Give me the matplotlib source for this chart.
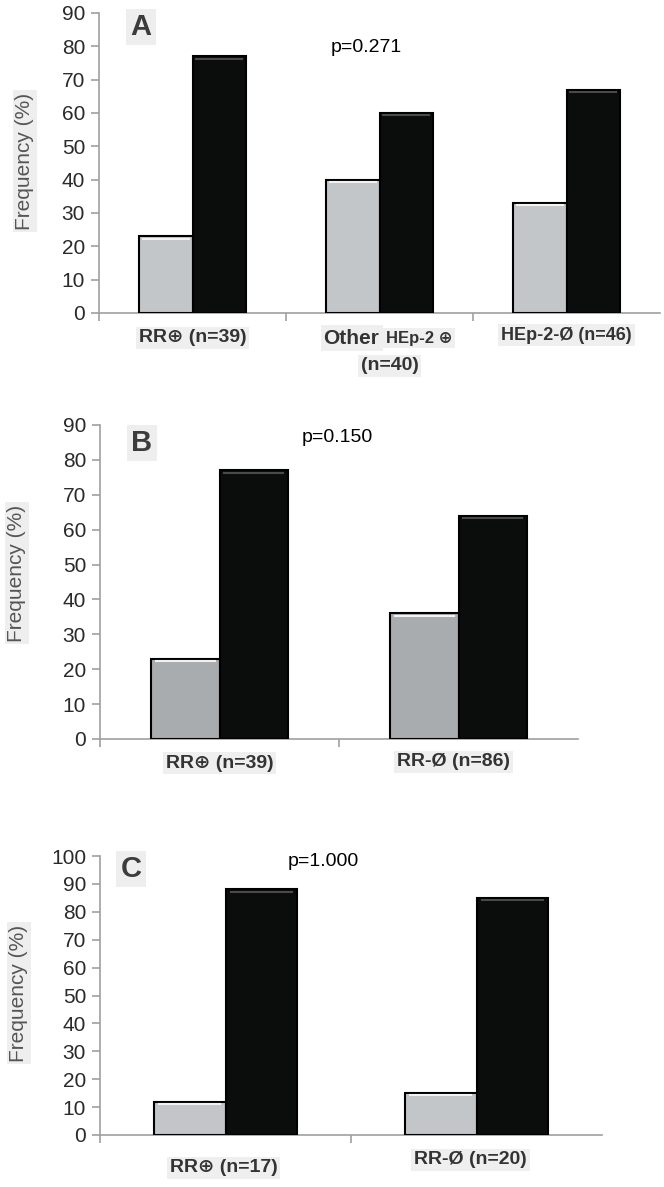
import matplotlib
matplotlib.use('Agg')
import matplotlib.pyplot as plt
import numpy as np

plt.rcParams['font.family'] = ['Liberation Sans', 'DejaVu Sans']

# panel A
a_grey = [23, 40, 33]
a_black = [77, 60, 67]
# panel B
b_grey = [23, 36]
b_black = [77, 64]
# panel C
c_grey = [12, 15]
c_black = [88, 85]

a_yticks = list(range(0, 91, 10))
b_yticks = list(range(0, 91, 10))
c_yticks = list(range(0, 101, 10))

b_labels = ['RR⊕ (n=39)', 'RR-Ø (n=86)']
c_labels = ['RR⊕ (n=17)', 'RR-Ø (n=20)']
p_values = ['p=0.271', 'p=0.150', 'p=1.000']
panel_names = ['A', 'B', 'C']

W, H = 664, 1187
fig = plt.figure(figsize=(W / 100, H / 100), dpi=100)


def px_axes(left, right, top, bottom):
    return fig.add_axes([left / W, 1 - bottom / H, (right - left) / W, (bottom - top) / H])


def draw_bars(ax, grey, black, yticks, grey_color):
    n = len(grey)
    x = np.arange(n)
    w = 0.286
    ax.bar(x - w / 2, grey, w, color=grey_color, edgecolor='black', linewidth=1.5, zorder=3)
    ax.bar(x + w / 2, black, w, color='#0a0d0b', edgecolor='black', linewidth=1.5, zorder=3)
    # small bevel highlight along the bar tops
    top = yticks[-1]
    for xi, g, b in zip(x, grey, black):
        ax.plot([xi - w + 0.02, xi - 0.02], [g - top * 0.008] * 2, color='#f2f2f2', lw=1.5, zorder=4)
        ax.plot([xi + 0.02, xi + w - 0.02], [b - top * 0.008] * 2, color='#4a4a4a', lw=1.5, zorder=4)
    ax.set_xlim(-0.5, n - 0.5)
    ax.set_ylim(0, top)
    ax.set_yticks(yticks)
    ax.set_xticks(np.arange(n) - 0.5)
    ax.set_xticklabels([])
    for s in ['top', 'right']:
        ax.spines[s].set_visible(False)
    for s in ['left', 'bottom']:
        ax.spines[s].set_color('#a0a0a0')
        ax.spines[s].set_linewidth(1.2)
    ax.tick_params(axis='both', direction='out', length=6, width=1.2, color='#a0a0a0')
    ax.tick_params(axis='y', labelsize=15, labelcolor='#2a2a2a', pad=4)


def cat_label(ax, x, text, dy, size=14, ha='center', dx=0):
    ax.annotate(text, xy=(x, 0), xycoords=('data', 'axes fraction'),
                xytext=(dx, -dy), textcoords='offset pixels',
                ha=ha, va='center', fontsize=size, fontweight='bold', color='#333333',
                bbox=dict(boxstyle='square,pad=0.15', facecolor='#efefef', edgecolor='none'))


def fig_text(x, y, text, **kw):
    fig.text(x / W, 1 - y / H, text, **kw)


axA = px_axes(99, 660, 13, 313)
draw_bars(axA, a_grey, a_black, a_yticks, '#c2c6c8')
cat_label(axA, 0, 'RR⊕ (n=39)', 25)
cat_label(axA, 1, 'Other', 25, size=15, ha='right')
cat_label(axA, 1, 'HEp-2 ⊕', 25, size=12, ha='left', dx=6)
cat_label(axA, 1, '(n=40)', 53, dx=10)
cat_label(axA, 2, 'HEp-2-Ø (n=46)', 22, size=13)

axB = px_axes(100, 578, 425, 739)
draw_bars(axB, b_grey, b_black, b_yticks, '#a9acae')
cat_label(axB, 0, b_labels[0], 24)
cat_label(axB, 1, b_labels[1], 23, dx=-5)

axC = px_axes(100, 602, 856, 1135)
draw_bars(axC, c_grey, c_black, c_yticks, '#c2c6c8')
cat_label(axC, 0, c_labels[0], 33, dx=-2)
cat_label(axC, 1, c_labels[1], 25, dx=-6)

ylab_pos = [(25, 161), (17, 573), (19, 993)]
letter_pos = [(141, 27), (142, 443), (131, 869)]
p_pos = [(366, 47), (337, 437), (323, 862)]
for i in range(3):
    fig_text(*ylab_pos[i], 'Frequency (%)', rotation=90, ha='center', va='center',
             fontsize=15, color='#555555',
             bbox=dict(boxstyle='square,pad=0.1', facecolor='#eeeeee', edgecolor='none'))
    fig_text(*letter_pos[i], panel_names[i], ha='center', va='center',
             fontsize=21, fontweight='bold', color='#3c3c3c',
             bbox=dict(boxstyle='square,pad=0.15', facecolor='#eeeeee', edgecolor='none'))
    fig_text(*p_pos[i], p_values[i], ha='center', va='center', fontsize=14, color='black')

fig.savefig('out.png', dpi=100)
